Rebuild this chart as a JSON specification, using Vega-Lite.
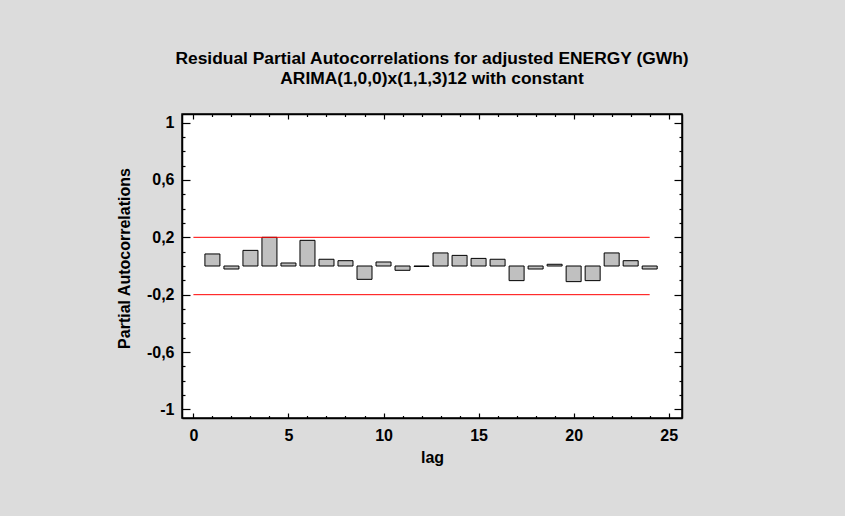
{
  "$schema": "https://vega.github.io/schema/vega-lite/v6.json",
  "width": 500,
  "height": 304,
  "autosize": {"type": "none"},
  "padding": {"left": 182, "top": 114, "right": 163, "bottom": 98},
  "background": "#dcdcdc",
  "view": {"fill": "white", "stroke": "black", "strokeWidth": 1.5},
  "title": {
    "text": ["Residual Partial Autocorrelations for adjusted ENERGY (GWh)", "ARIMA(1,0,0)x(1,1,3)12 with constant"],
    "font": "Liberation Sans",
    "fontSize": 17.4,
    "fontWeight": "bold",
    "color": "black",
    "anchor": "middle",
    "offset": 26,
    "lineHeight": 20
  },
  "datasets": {
    "pacf": [
      {"lag": 1, "pacf": 0.084},
      {"lag": 2, "pacf": -0.021},
      {"lag": 3, "pacf": 0.109},
      {"lag": 4, "pacf": 0.2},
      {"lag": 5, "pacf": 0.021},
      {"lag": 6, "pacf": 0.179},
      {"lag": 7, "pacf": 0.047},
      {"lag": 8, "pacf": 0.037},
      {"lag": 9, "pacf": -0.093},
      {"lag": 10, "pacf": 0.028},
      {"lag": 11, "pacf": -0.03},
      {"lag": 12, "pacf": -0.003},
      {"lag": 13, "pacf": 0.091},
      {"lag": 14, "pacf": 0.074},
      {"lag": 15, "pacf": 0.053},
      {"lag": 16, "pacf": 0.047},
      {"lag": 17, "pacf": -0.102},
      {"lag": 18, "pacf": -0.021},
      {"lag": 19, "pacf": 0.012},
      {"lag": 20, "pacf": -0.109},
      {"lag": 21, "pacf": -0.102},
      {"lag": 22, "pacf": 0.091},
      {"lag": 23, "pacf": 0.037},
      {"lag": 24, "pacf": -0.021}
    ],
    "limits": [
      {"from": 0, "to": 24, "limit": 0.2},
      {"from": 0, "to": 24, "limit": -0.2}
    ]
  },
  "layer": [
    {
      "data": {"name": "pacf"},
      "mark": {"type": "bar", "size": 15, "fill": "#c0c0c0", "stroke": "black", "strokeWidth": 1},
      "encoding": {
        "x": {
          "field": "lag",
          "type": "quantitative",
          "scale": {"domain": [-0.6, 25.7], "nice": false, "zero": false, "padding": 0},
          "axis": {
            "orient": "bottom",
            "title": "lag",
            "values": [0,1,2,3,4,5,6,7,8,9,10,11,12,13,14,15,16,17,18,19,20,21,22,23,24,25],
            "grid": false,
            "domainColor": "black",
            "domainWidth": 1.5,
            "tickColor": "black",
            "tickWidth": 1.2,
            "tickSize": {"condition": {"test": "datum.value % 5 == 0", "value": -5}, "value": -2.5},
            "labelExpr": "datum.value % 5 == 0 ? toString(datum.value) : ''",
            "labelOverlap": false,
            "labelFlush": false,
            "labelFont": "Liberation Sans",
            "labelFontSize": 16,
            "labelFontWeight": "bold",
            "labelColor": "black",
            "labelPadding": 14,
            "titleFont": "Liberation Sans",
            "titleFontSize": 16,
            "titleFontWeight": "bold",
            "titleColor": "black",
            "titlePadding": 4
          }
        },
        "y": {
          "field": "pacf",
          "type": "quantitative",
          "scale": {"domain": [-1.06, 1.06], "nice": false, "padding": 0},
          "axis": {
            "orient": "left",
            "title": "Partial Autocorrelations",
            "values": [-1,-0.9,-0.8,-0.7,-0.6,-0.5,-0.4,-0.3,-0.2,-0.1,0,0.1,0.2,0.3,0.4,0.5,0.6,0.7,0.8,0.9,1],
            "grid": false,
            "domainColor": "black",
            "domainWidth": 1.5,
            "tickColor": "black",
            "tickWidth": 1.2,
            "tickSize": {"condition": {"test": "abs(round((datum.value+1)*10))%4==0", "value": -8}, "value": -3},
            "labelExpr": "abs(round((datum.value+1)*10))%4==0 ? (datum.value<0?'-':'') + replace(format(abs(datum.value),'.1~f'),'.',',') : ''",
            "labelOverlap": false,
            "labelFlush": false,
            "labelFont": "Liberation Sans",
            "labelFontSize": 16,
            "labelFontWeight": "bold",
            "labelColor": "black",
            "labelPadding": 16,
            "titleFont": "Liberation Sans",
            "titleFontSize": 16,
            "titleFontWeight": "bold",
            "titleColor": "black",
            "titlePadding": 14,
            "titleY": 144
          }
        }
      }
    },
    {
      "data": {"name": "limits"},
      "mark": {"type": "rule", "color": "#ff0000", "strokeWidth": 1},
      "encoding": {
        "x": {
          "field": "from",
          "type": "quantitative",
          "axis": {
            "orient": "top",
            "title": null,
            "labels": false,
            "values": [0,1,2,3,4,5,6,7,8,9,10,11,12,13,14,15,16,17,18,19,20,21,22,23,24,25],
            "grid": false,
            "domainColor": "black",
            "domainWidth": 1.5,
            "tickColor": "black",
            "tickWidth": 1.2,
            "tickSize": {"condition": {"test": "datum.value % 5 == 0", "value": -5}, "value": -2.5}
          }
        },
        "x2": {"field": "to"},
        "y": {
          "field": "limit",
          "type": "quantitative",
          "axis": {
            "orient": "right",
            "title": null,
            "labels": false,
            "values": [-1,-0.9,-0.8,-0.7,-0.6,-0.5,-0.4,-0.3,-0.2,-0.1,0,0.1,0.2,0.3,0.4,0.5,0.6,0.7,0.8,0.9,1],
            "grid": false,
            "domainColor": "black",
            "domainWidth": 1.5,
            "tickColor": "black",
            "tickWidth": 1.2,
            "tickSize": {"condition": {"test": "abs(round((datum.value+1)*10))%4==0", "value": -8}, "value": -3}
          }
        }
      }
    }
  ],
  "resolve": {"axis": {"x": "independent", "y": "independent"}}
}
